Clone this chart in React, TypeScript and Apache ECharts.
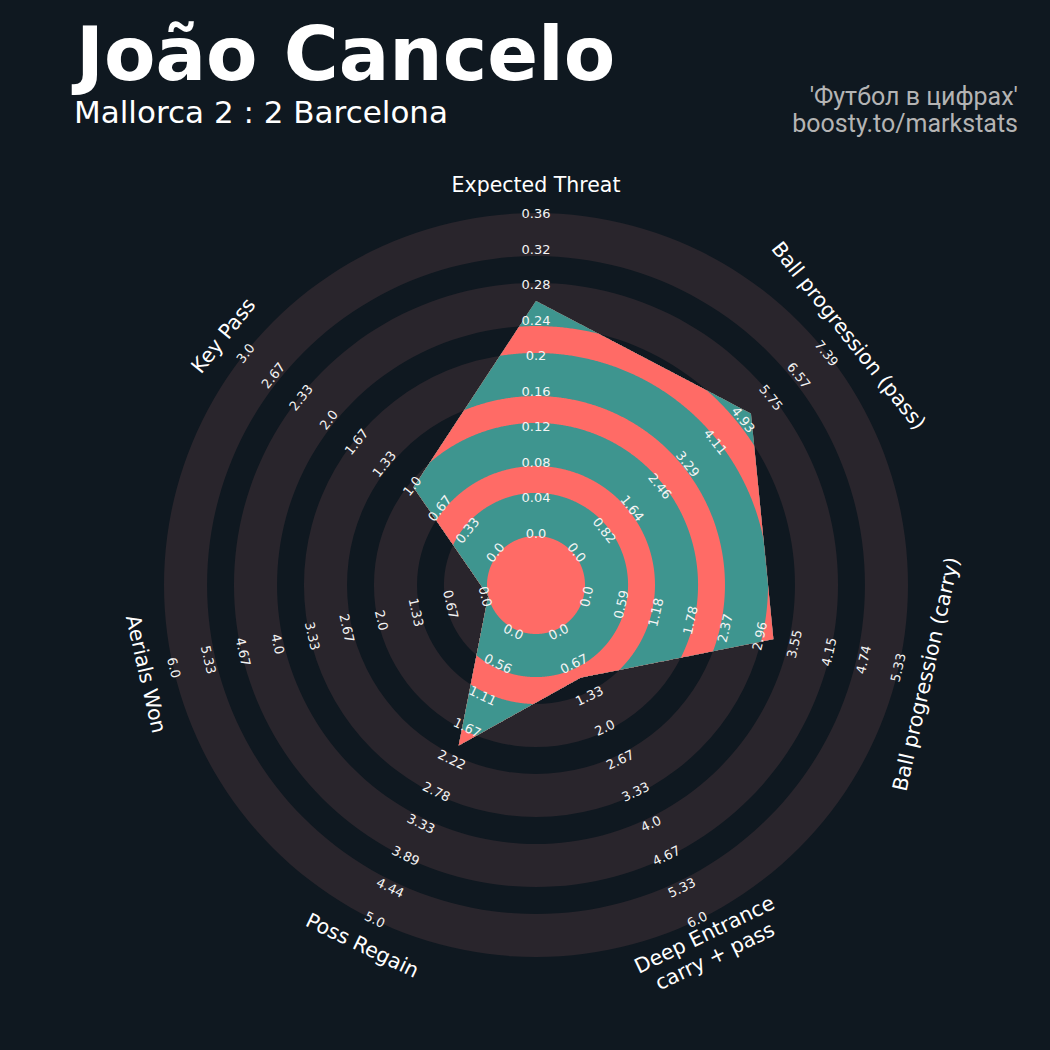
import React, { useEffect, useRef } from 'react';
import * as echarts from 'echarts';

// ---------- data ----------
const playerName = 'João Cancelo';
const matchLabel = 'Mallorca 2 : 2 Barcelona';
const creditLines = ["'Футбол в цифрах'", 'boosty.to/markstats'];

const params = [
  'Expected Threat',
  'Ball progression (pass)',
  'Ball progression (carry)',
  'Deep Entrance\ncarry + pass',
  'Poss Regain',
  'Aerials Won',
  'Key Pass',
];
const minRanges = [0, 0, 0, 0, 0, 0, 0];
const maxRanges = [0.36, 7.39, 5.33, 6, 5, 6, 3];
const playerValues = [0.262, 5.17, 3.21, 1.0, 2.0, 0.0, 1.0];

const ticksXT = ['0.0', '0.04', '0.08', '0.12', '0.16', '0.2', '0.24', '0.28', '0.32', '0.36'];
const ticksPass = ['0.0', '0.82', '1.64', '2.46', '3.29', '4.11', '4.93', '5.75', '6.57', '7.39'];
const ticksCarry = ['0.0', '0.59', '1.18', '1.78', '2.37', '2.96', '3.55', '4.15', '4.74', '5.33'];
const ticksDeep = ['0.0', '0.67', '1.33', '2.0', '2.67', '3.33', '4.0', '4.67', '5.33', '6.0'];
const ticksRegain = ['0.0', '0.56', '1.11', '1.67', '2.22', '2.78', '3.33', '3.89', '4.44', '5.0'];
const ticksAerial = ['0.0', '0.67', '1.33', '2.0', '2.67', '3.33', '4.0', '4.67', '5.33', '6.0'];
const ticksKeyPass = ['0.0', '0.33', '0.67', '1.0', '1.33', '1.67', '2.0', '2.33', '2.67', '3.0'];
const tickLabels = [ticksXT, ticksPass, ticksCarry, ticksDeep, ticksRegain, ticksAerial, ticksKeyPass];

// ---------- layout / style ----------
const BG = '#0f1820';
const RING_COLOR = '#29252c';
const TEAL = '#3e958f';
const RED = '#ff6b66';
const CENTER = [536, 585];
const OUTER_R = 372;
const INNER_R = 49;
const RMIN = -INNER_R / (OUTER_R - INNER_R);
// ring edges in normalised radius (gray band, dark band, gray band, ...)
const RING_EDGES = [0, 8, 13, 21, 26, 34, 39, 47, 52, 60].map((x) => x / 60);
const STEPS = 160;
const FONT = 'DejaVu Sans';

function textRotation(deg: number) {
  const d = deg <= 90 || deg >= 270 ? -deg : -(deg - 180);
  return (d * Math.PI) / 180;
}

function renderItem(p: any, api: any) {
  const c = api.coord([RMIN, 0]);
  const pr = (n: number) => {
    const q = api.coord([n, 0]);
    return Math.hypot(q[0] - c[0], q[1] - c[1]);
  };
  const r0 = pr(0);
  const r1 = pr(1);
  const rad = (n: number) => r0 + n * (r1 - r0);
  const N = params.length;
  const ang = (k: number) => (k * 360) / N;
  const dir = (deg: number) => [Math.sin((deg * Math.PI) / 180), -Math.cos((deg * Math.PI) / 180)];

  const verts = playerValues.map((v, k) =>
    api.coord([(v - minRanges[k]) / (maxRanges[k] - minRanges[k]), ang(k)])
  );

  const clipped = (Rb: number) => {
    const pts: number[][] = [];
    for (let k = 0; k < N; k++) {
      const A = [verts[k][0] - c[0], verts[k][1] - c[1]];
      const Bv = verts[(k + 1) % N];
      const B = [Bv[0] - c[0], Bv[1] - c[1]];
      const E = [B[0] - A[0], B[1] - A[1]];
      const a0 = ang(k);
      const a1 = ang(k + 1);
      for (let j = 0; j < STEPS; j++) {
        const phi = a0 + ((a1 - a0) * j) / STEPS;
        const d = dir(phi);
        const den = d[0] * E[1] - d[1] * E[0];
        const t = (A[0] * E[1] - A[1] * E[0]) / den;
        const r = Math.min(t, Rb);
        pts.push([c[0] + r * d[0], c[1] + r * d[1]]);
      }
    }
    return pts;
  };

  const children: any[] = [];
  // background rings
  for (let i = 0; i + 1 < RING_EDGES.length; i += 2) {
    children.push({
      type: 'ring',
      shape: { cx: c[0], cy: c[1], r0: rad(RING_EDGES[i]), r: rad(RING_EDGES[i + 1]) },
      style: { fill: RING_COLOR },
    });
  }
  // radar polygon, coloured per ring
  for (let idx = RING_EDGES.length - 1; idx >= 0; idx--) {
    children.push({
      type: 'polygon',
      shape: { points: clipped(rad(RING_EDGES[idx])) },
      style: { fill: idx % 2 === 1 ? TEAL : RED },
    });
  }
  // range labels
  for (let k = 0; k < N; k++) {
    const d = dir(ang(k));
    const labels = tickLabels[k];
    for (let i = 0; i < labels.length; i++) {
      const rl = rad(0) + 3 + (i * (rad(1) - rad(0) - 3.5)) / (labels.length - 1);
      children.push({
        type: 'text',
        x: c[0] + rl * d[0],
        y: c[1] + rl * d[1],
        rotation: textRotation(ang(k)),
        style: {
          text: labels[i],
          fill: '#f4f4f4',
          fontSize: 13,
          fontFamily: FONT,
          align: 'center',
          verticalAlign: 'middle',
          textAlign: 'center',
          textVerticalAlign: 'middle',
        },
      });
    }
    // parameter label
    const rp = 400;
    children.push({
      type: 'text',
      x: c[0] + rp * d[0],
      y: c[1] + rp * d[1],
      rotation: textRotation(ang(k)),
      style: {
        text: params[k],
        fill: '#ffffff',
        fontSize: 20.5,
        lineHeight: 24,
        fontFamily: FONT,
        align: 'center',
        verticalAlign: 'middle',
        textAlign: 'center',
        textVerticalAlign: 'middle',
      },
    });
  }
  return { type: 'group', children };
}

const option: any = {
  animation: false,
  backgroundColor: BG,
  polar: { center: CENTER, radius: OUTER_R },
  angleAxis: { type: 'value', min: 0, max: 360, startAngle: 90, clockwise: true, show: false },
  radiusAxis: { type: 'value', min: RMIN, max: 1, show: false },
  series: [
    {
      type: 'custom',
      coordinateSystem: 'polar',
      data: [[0, 0]],
      renderItem,
      silent: true,
      clip: false,
    },
  ],
  graphic: [
    {
      type: 'text',
      x: 76,
      y: 54,
      style: {
        text: playerName,
        fill: '#ffffff',
        fontSize: 75,
        lineHeight: 62,
        fontWeight: 'bold',
        fontFamily: FONT,
        align: 'left',
        verticalAlign: 'middle',
        textAlign: 'left',
        textVerticalAlign: 'middle',
      },
    },
    {
      type: 'text',
      x: 74,
      y: 112,
      style: {
        text: matchLabel,
        fill: '#ffffff',
        fontSize: 31,
        lineHeight: 32,
        fontFamily: FONT,
        align: 'left',
        verticalAlign: 'middle',
        textAlign: 'left',
        textVerticalAlign: 'middle',
      },
    },
    {
      type: 'text',
      x: 1018,
      y: 96,
      style: {
        text: creditLines[0],
        fill: '#b4b4b4',
        fontSize: 25,
        lineHeight: 26,
        fontFamily: 'Roboto',
        align: 'right',
        verticalAlign: 'middle',
        textAlign: 'right',
        textVerticalAlign: 'middle',
      },
    },
    {
      type: 'text',
      x: 1018,
      y: 123,
      style: {
        text: creditLines[1],
        fill: '#b4b4b4',
        fontSize: 25,
        lineHeight: 26,
        fontFamily: 'Roboto',
        align: 'right',
        verticalAlign: 'middle',
        textAlign: 'right',
        textVerticalAlign: 'middle',
      },
    },
  ],
};

export default function App() {
  const ref = useRef<HTMLDivElement>(null);
  useEffect(() => {
    const chart = echarts.init(ref.current as HTMLDivElement, null, { renderer: 'svg' });
    chart.setOption(option);
    return () => chart.dispose();
  }, []);
  return (
    <div
      ref={ref}
      style={{ position: 'fixed', left: 0, top: 0, width: 1050, height: 1050 }}
    />
  );
}
